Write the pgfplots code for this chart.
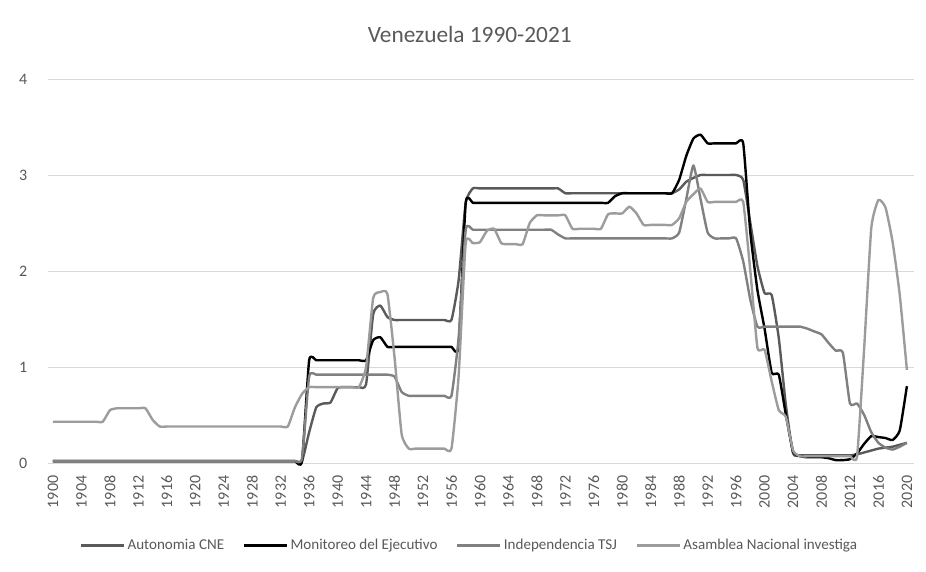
\documentclass[border=0pt]{standalone}
\usepackage{fontspec}
\setmainfont{Carlito}
\usepackage{pgfplots}
\usepackage{pgfplotstable}
\pgfplotsset{compat=1.18}
\definecolor{txt}{HTML}{595959}
\definecolor{gridc}{HTML}{D9D9D9}
\definecolor{cne}{HTML}{5A5A5A}
\definecolor{mon}{HTML}{000000}
\definecolor{tsj}{HTML}{808080}
\definecolor{asm}{HTML}{9C9C9C}

\pgfplotstableread{
year cne mon tsj asm
1900 0.02 0.02 0.02 0.43
1901 0.02 0.02 0.02 0.43
1902 0.02 0.02 0.02 0.43
1903 0.02 0.02 0.02 0.43
1904 0.02 0.02 0.02 0.43
1905 0.02 0.02 0.02 0.43
1906 0.02 0.02 0.02 0.43
1907 0.02 0.02 0.02 0.43
1908 0.02 0.02 0.02 0.55
1909 0.02 0.02 0.02 0.57
1910 0.02 0.02 0.02 0.57
1911 0.02 0.02 0.02 0.57
1912 0.02 0.02 0.02 0.57
1913 0.02 0.02 0.02 0.57
1914 0.02 0.02 0.02 0.45
1915 0.02 0.02 0.02 0.38
1916 0.02 0.02 0.02 0.38
1917 0.02 0.02 0.02 0.38
1918 0.02 0.02 0.02 0.38
1919 0.02 0.02 0.02 0.38
1920 0.02 0.02 0.02 0.38
1921 0.02 0.02 0.02 0.38
1922 0.02 0.02 0.02 0.38
1923 0.02 0.02 0.02 0.38
1924 0.02 0.02 0.02 0.38
1925 0.02 0.02 0.02 0.38
1926 0.02 0.02 0.02 0.38
1927 0.02 0.02 0.02 0.38
1928 0.02 0.02 0.02 0.38
1929 0.02 0.02 0.02 0.38
1930 0.02 0.02 0.02 0.38
1931 0.02 0.02 0.02 0.38
1932 0.02 0.02 0.02 0.38
1933 0.02 0.02 0.02 0.38
1934 0.02 0.02 0.02 0.58
1935 0.02 0.02 0.05 0.72
1936 0.32 1.07 0.90 0.79
1937 0.58 1.07 0.92 0.79
1938 0.62 1.07 0.92 0.79
1939 0.63 1.07 0.92 0.79
1940 0.78 1.07 0.92 0.79
1941 0.79 1.07 0.92 0.79
1942 0.79 1.07 0.92 0.79
1943 0.79 1.07 0.92 0.79
1944 0.82 1.07 0.92 1.00
1945 1.55 1.28 0.92 1.72
1946 1.64 1.31 0.92 1.78
1947 1.52 1.21 0.92 1.76
1948 1.49 1.21 0.90 1.10
1949 1.49 1.21 0.74 0.30
1950 1.49 1.21 0.70 0.15
1951 1.49 1.21 0.70 0.15
1952 1.49 1.21 0.70 0.15
1953 1.49 1.21 0.70 0.15
1954 1.49 1.21 0.70 0.15
1955 1.49 1.21 0.70 0.15
1956 1.49 1.21 0.70 0.15
1957 1.90 1.21 1.30 0.90
1958 2.71 2.71 2.43 2.29
1959 2.86 2.71 2.43 2.29
1960 2.86 2.71 2.43 2.30
1961 2.86 2.71 2.43 2.42
1962 2.86 2.71 2.43 2.44
1963 2.86 2.71 2.43 2.29
1964 2.86 2.71 2.43 2.28
1965 2.86 2.71 2.43 2.28
1966 2.86 2.71 2.43 2.28
1967 2.86 2.71 2.43 2.50
1968 2.86 2.71 2.43 2.58
1969 2.86 2.71 2.43 2.58
1970 2.86 2.71 2.43 2.58
1971 2.86 2.71 2.38 2.58
1972 2.81 2.71 2.34 2.58
1973 2.81 2.71 2.34 2.44
1974 2.81 2.71 2.34 2.44
1975 2.81 2.71 2.34 2.44
1976 2.81 2.71 2.34 2.44
1977 2.81 2.71 2.34 2.44
1978 2.81 2.71 2.34 2.59
1979 2.81 2.78 2.34 2.60
1980 2.81 2.81 2.34 2.60
1981 2.81 2.81 2.34 2.67
1982 2.81 2.81 2.34 2.60
1983 2.81 2.81 2.34 2.48
1984 2.81 2.81 2.34 2.48
1985 2.81 2.81 2.34 2.48
1986 2.81 2.81 2.34 2.48
1987 2.81 2.81 2.34 2.48
1988 2.85 2.95 2.40 2.55
1989 2.93 3.20 2.75 2.72
1990 2.97 3.38 3.10 2.80
1991 3.00 3.42 2.75 2.86
1992 3.00 3.33 2.40 2.72
1993 3.00 3.33 2.34 2.72
1994 3.00 3.33 2.34 2.72
1995 3.00 3.33 2.34 2.72
1996 3.00 3.33 2.34 2.72
1997 2.95 3.33 2.10 2.72
1998 2.50 2.40 1.70 2.00
1999 2.05 1.80 1.42 1.20
2000 1.77 1.40 1.42 1.18
2001 1.75 0.94 1.42 0.85
2002 1.30 0.92 1.42 0.55
2003 0.60 0.50 1.42 0.48
2004 0.10 0.12 1.42 0.13
2005 0.08 0.07 1.42 0.07
2006 0.08 0.06 1.40 0.07
2007 0.08 0.06 1.37 0.07
2008 0.08 0.06 1.34 0.07
2009 0.08 0.05 1.25 0.07
2010 0.08 0.03 1.17 0.07
2011 0.08 0.03 1.15 0.07
2012 0.08 0.04 0.62 0.07
2013 0.09 0.10 0.62 0.07
2014 0.11 0.20 0.50 1.20
2015 0.13 0.28 0.32 2.45
2016 0.15 0.27 0.21 2.74
2017 0.16 0.26 0.16 2.66
2018 0.17 0.24 0.14 2.30
2019 0.19 0.34 0.17 1.75
2020 0.21 0.80 0.21 0.97
}\data

\begin{document}
\begin{tikzpicture}
\useasboundingbox (-36pt,-81.75pt) rectangle (658.5pt,347.25pt);
\begin{axis}[
  at={(0,0)}, anchor=south west,
  scale only axis, width=649.5pt, height=288pt,
  xmin=1899.3, xmax=2021, ymin=0, ymax=4,
  clip=false,
  axis line style={draw=none},
  ytick={0,1,2,3,4},
  ymajorgrids, grid style={gridc, line width=0.75pt},
  xtick={1900,1904,...,2020},
  major tick length=0pt,
  tick label style={font=\fontsize{12}{14}\selectfont, text=txt},
  /pgf/number format/assume math mode=true,
  /pgf/number format/set thousands separator={},
  xticklabel style={rotate=90, anchor=east},
  xticklabel shift=6pt,
  yticklabel shift=12pt,
  title={Venezuela 1990-2021},
  title style={font=\fontsize{17.5}{20}\selectfont, text=txt, at={(0.487,1)}, anchor=center, yshift=27.75pt},
  legend style={draw=none, at={(0.487,-0.215)}, anchor=center,
    font=\fontsize{11.3}{13}\selectfont, text=txt,
    /tikz/every even column/.append style={column sep=12pt}},
  legend columns=4,
  legend image code/.code={\draw[#1, line width=1.8pt] (0pt,0pt) -- (32pt,0pt);},
  every axis plot/.append style={line width=1.8pt, smooth, tension=0.3, line join=round},
]
\addplot[cne] table[x=year, y=cne] {\data};
\addlegendentry{Autonomia CNE}
\addplot[mon] table[x=year, y=mon] {\data};
\addlegendentry{Monitoreo del Ejecutivo}
\addplot[tsj] table[x=year, y=tsj] {\data};
\addlegendentry{Independencia TSJ}
\addplot[asm] table[x=year, y=asm] {\data};
\addlegendentry{Asamblea Nacional investiga}
\end{axis}
\end{tikzpicture}
\end{document}
